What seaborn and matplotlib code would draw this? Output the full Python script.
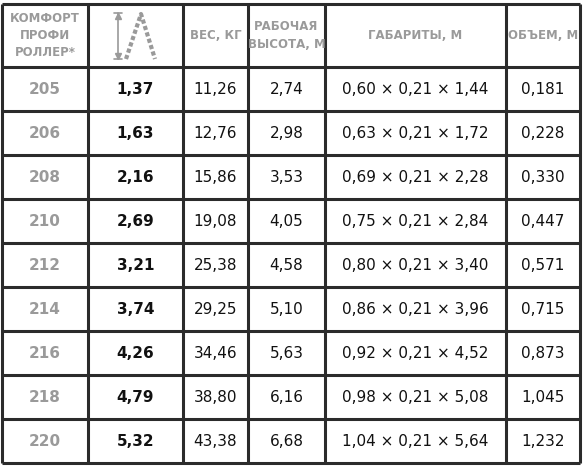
import matplotlib
matplotlib.use("Agg")
import matplotlib.pyplot as plt
import seaborn as sns
from matplotlib import font_manager

sns.set_theme(style="white")
plt.rcParams['font.family'] = ['DejaVu Sans']

models = ["205", "206", "208", "210", "212", "214", "216", "218", "220"]
heights = ["1,37", "1,63", "2,16", "2,69", "3,21", "3,74", "4,26", "4,79", "5,32"]
weights = ["11,26", "12,76", "15,86", "19,08", "25,38", "29,25", "34,46", "38,80", "43,38"]
work_h = ["2,74", "2,98", "3,53", "4,05", "4,58", "5,10", "5,63", "6,16", "6,68"]
dims = ["0,60 × 0,21 × 1,44", "0,63 × 0,21 × 1,72", "0,69 × 0,21 × 2,28",
        "0,75 × 0,21 × 2,84", "0,80 × 0,21 × 3,40", "0,86 × 0,21 × 3,96",
        "0,92 × 0,21 × 4,52", "0,98 × 0,21 × 5,08", "1,04 × 0,21 × 5,64"]
volumes = ["0,181", "0,228", "0,330", "0,447", "0,571", "0,715", "0,873", "1,045", "1,232"]
headers = ["КОМФОРТ\nПРОФИ\nРОЛЛЕР*", "", "ВЕС, КГ", "РАБОЧАЯ\nВЫСОТА, М", "ГАБАРИТЫ, М", "ОБЪЕМ, М"]

names = {f.name for f in font_manager.fontManager.ttflist}
narrow = "Liberation Sans Narrow" if "Liberation Sans Narrow" in names else "DejaVu Sans"
hsize = 10 if narrow != "DejaVu Sans" else 8.5

W, H = 586, 467
fig = plt.figure(figsize=(W / 100, H / 100), dpi=100)
ax = fig.add_axes([0, 0, 1, 1])
ax.set_xlim(0, W)
ax.set_ylim(H, 0)
ax.axis("off")

xs = [2, 88, 183, 248, 325, 506, 580]
header_bottom = 67
row_h = 44
ys = [4, header_bottom] + [header_bottom + row_h * (i + 1) for i in range(len(models))]
line_c = "#2b2b2b"
ax.vlines(xs, ys[0], ys[-1], colors=line_c, lw=2.2)
ax.hlines(ys, xs[0], xs[-1], colors=line_c, lw=2.2)

cx = [(xs[i] + xs[i + 1]) / 2 for i in range(6)]
hy = (ys[0] + ys[1]) / 2
gray = "#9a9a9a"
for i, h in enumerate(headers):
    if h:
        ax.text(cx[i], hy, h, ha="center", va="center", color=gray, fontsize=hsize,
                fontweight="bold", family=[narrow, "DejaVu Sans"], linespacing=1.45)

# ladder icon
ax.plot([118, 118], [13, 59], color=gray, lw=1.2)
ax.plot([114, 122], [13, 13], color=gray, lw=1.2)
ax.plot([114, 122], [59, 59], color=gray, lw=1.2)
ax.plot([118], [16], marker="^", color=gray, ms=4)
ax.plot([118], [56], marker="v", color=gray, ms=4)
ax.plot([126, 141, 155], [59, 14, 59], color=gray, lw=3, ls=(0, (1, 0.6)))

cols = [models, heights, weights, work_h, dims, volumes]
for r in range(len(models)):
    yc = (ys[r + 1] + ys[r + 2]) / 2
    for c, col in enumerate(cols):
        color = gray if c == 0 else "#111111"
        weight = "bold" if c in (0, 1) else "normal"
        ax.text(cx[c], yc, col[r], ha="center", va="center", color=color,
                fontsize=11, fontweight=weight)

fig.savefig("out.png", dpi=100, facecolor="white")
